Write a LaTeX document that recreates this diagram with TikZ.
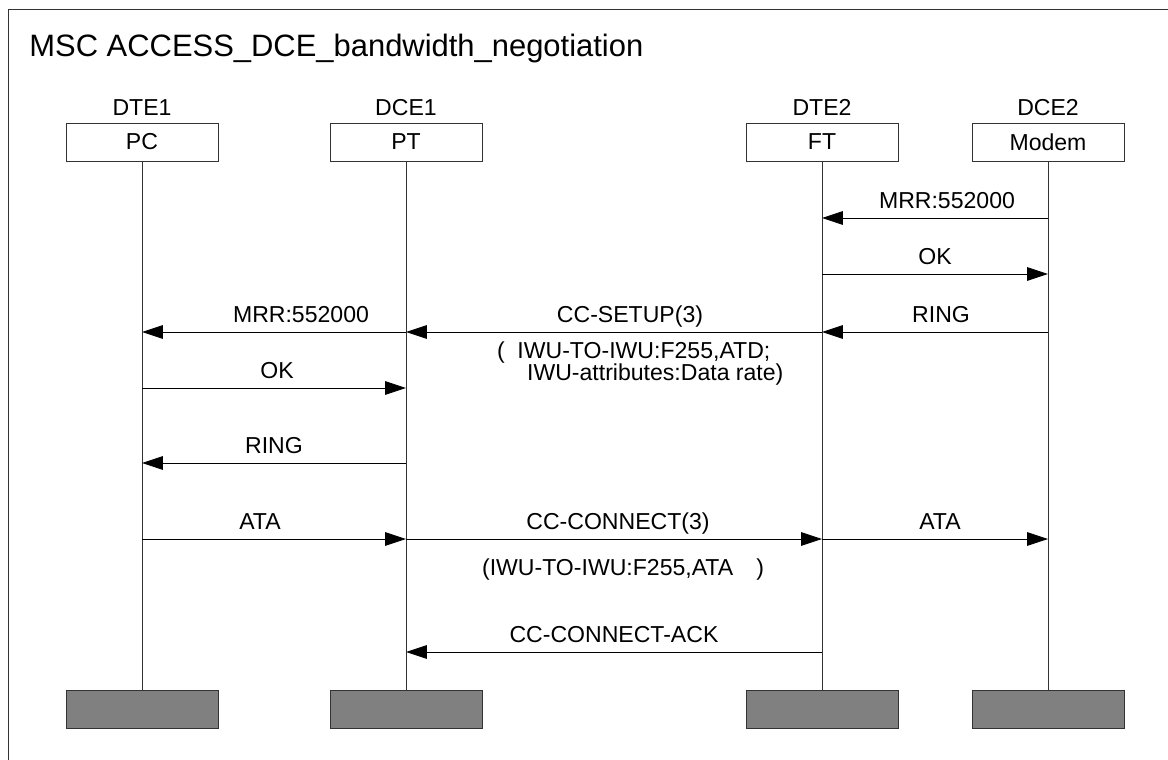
\documentclass[tikz,border=0pt]{standalone}
\usepackage{fontspec}
\setmainfont{Liberation Sans}
\usetikzlibrary{arrows.meta}

\begin{document}
\begin{tikzpicture}[x=0.025cm,y=-0.025cm,line width=0.6pt,
    inst/.style={draw=black!80,minimum width=3.8cm,minimum height=0.95cm,inner sep=0pt,
      font=\fontsize{16.4}{19}\selectfont},
    instname/.style={anchor=base,font=\fontsize{16.4}{19}\selectfont},
    instend/.style={draw=black!80,fill=black!50,minimum width=3.8cm,minimum height=0.95cm,inner sep=0pt},
    life/.style={draw=black!80},
    msg/.style={-{Triangle[length=0.52cm,width=0.34cm]}},
    lbl/.style={anchor=base,yshift=0.24cm,font=\fontsize{16.4}{19}\selectfont},
    param/.style={anchor=base west,font=\fontsize{16.4}{19}\selectfont}]
  \clip (0,0) rectangle (1168,760);
  \draw[black!80] (8,9) rectangle (1200,800);
  \node[anchor=base west,inner sep=0pt,font=\fontsize{22}{26}\selectfont] (title) at (29,57)
    {MSC ACCESS\_DCE\_bandwidth\_negotiation};

  % instances
  \node[instname] (dte1) at (142,116) {DTE1};
  \node[instname] (dce1) at (406,116) {DCE1};
  \node[instname] (dte2) at (822,116) {DTE2};
  \node[instname] (dce2) at (1048,116) {DCE2};
  \node[inst] (pc) at (142,142) {PC};
  \node[inst] (pt) at (406,142) {PT};
  \node[inst] (ft) at (822,142) {FT};
  \node[inst] (modem) at (1048,142) {Modem};
  \node[instend] (pcend) at (142,709) {};
  \node[instend] (ptend) at (406,709) {};
  \node[instend] (ftend) at (822,709) {};
  \node[instend] (modemend) at (1048,709) {};
  \draw[life] (pc) -- (pcend);
  \draw[life] (pt) -- (ptend);
  \draw[life] (ft) -- (ftend);
  \draw[life] (modem) -- (modemend);

  % message levels
  \coordinate (m1) at (0,218);
  \coordinate (m2) at (0,274);
  \coordinate (m3) at (0,332);
  \coordinate (m4) at (0,388);
  \coordinate (m5) at (0,463);
  \coordinate (m6) at (0,539);
  \coordinate (m7) at (0,652);

  \draw[msg] (modem |- m1) -- node[lbl,xshift=0.3cm] {MRR:552000} (ft |- m1);
  \draw[msg] (ft |- m2) -- node[lbl] {OK} (modem |- m2);
  \draw[msg] (modem |- m3) -- node[lbl,xshift=0.15cm] {RING} (ft |- m3);
  \draw[msg] (ft |- m3) -- node[lbl,xshift=0.4cm] {CC-SETUP(3)} (pt |- m3);
  \draw[msg] (pt |- m3) -- node[lbl,xshift=0.675cm] {MRR:552000} (pc |- m3);
  \node[param] (setuppar) at (492,358) {(\hspace{0.55em}IWU-TO-IWU:F255,ATD;};
  \node[param] (setuppar2) at (522,380) {IWU-attributes:Data rate)};
  \draw[msg] (pc |- m4) -- node[lbl,xshift=0.075cm] {OK} (pt |- m4);
  \draw[msg] (pt |- m5) -- node[lbl] {RING} (pc |- m5);
  \draw[msg] (pc |- m6) -- node[lbl,xshift=-0.35cm] {ATA} (pt |- m6);
  \draw[msg] (pt |- m6) -- node[lbl,xshift=0.1cm] {CC-CONNECT(3)} (ft |- m6);
  \draw[msg] (ft |- m6) -- node[lbl,xshift=0.125cm] {ATA} (modem |- m6);
  \node[param] (connpar) at (477,575) {(IWU-TO-IWU:F255,ATA\hspace{1em})};
  \draw[msg] (ft |- m7) -- node[lbl] {CC-CONNECT-ACK} (pt |- m7);
\end{tikzpicture}
\end{document}
